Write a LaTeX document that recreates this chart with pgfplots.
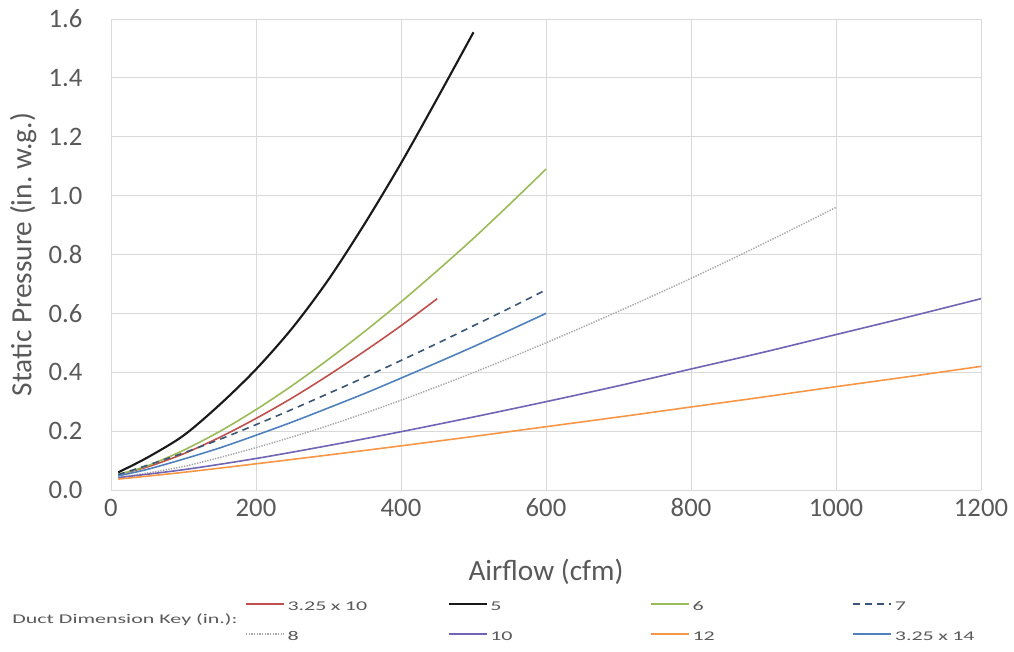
\documentclass[border=0pt]{standalone}
\usepackage{fontspec}
\setmainfont{Carlito}
\newfontfamily\legfont{Carlito}[FakeStretch=1.65]
\usepackage{pgfplots}
\pgfplotsset{compat=1.18}
\definecolor{gridgray}{HTML}{D9D9D9}
\definecolor{txtgray}{HTML}{595959}
\definecolor{cRed}{HTML}{C0504D}
\definecolor{cBlack}{HTML}{1A1A1A}
\definecolor{cGreen}{HTML}{9BBB59}
\definecolor{cDash}{HTML}{3B5675}
\definecolor{cDot}{HTML}{A6A6A6}
\definecolor{cPurple}{HTML}{7064B4}
\definecolor{cOrange}{HTML}{F79646}
\definecolor{cBlue}{HTML}{4F81BD}
\begin{document}
\begin{tikzpicture}
\useasboundingbox (-83.25pt,-120.75pt) rectangle (677.25pt,367.5pt);
\begin{axis}[
  scale only axis,
  width=652.5pt, height=353.25pt,
  xmin=0, xmax=1200, ymin=0, ymax=1.6,
  xtick={0,200,400,600,800,1000,1200},
  ytick={0,0.2,0.4,0.6,0.8,1.0,1.2,1.4,1.6},
  grid=major,
  major grid style={draw=gridgray, line width=0.7pt},
  axis line style={draw=none},
  major tick length=0pt,
  /pgf/number format/assume math mode=true,
  /pgf/number format/1000 sep={},
  ticklabel style={font=\fontsize{20}{24}\selectfont, text=txtgray},
  yticklabel style={/pgf/number format/fixed, /pgf/number format/fixed zerofill, /pgf/number format/precision=1, xshift=-18pt},
  xticklabel style={yshift=-3pt},
  xlabel={Airflow (cfm)},
  ylabel={Static Pressure (in.\ w.g.)},
  label style={font=\fontsize{22}{26}\selectfont, text=txtgray},
  xlabel style={at={(axis description cs:0.5,-0.174)}, anchor=center},
  ylabel style={at={(axis description cs:-0.101,0.5)}, anchor=center},
  legend columns=4,
  legend style={draw=none, fill=none, inner sep=0pt,
    at={(axis description cs:0.154,-0.2335)}, anchor=north west,
    font=\legfont\fontsize{10}{12}\selectfont, text=txtgray,
    row sep=11.5pt,
    nodes={text width=119pt, align=left, text height=7pt, text depth=2pt, inner sep=1pt},
    /tikz/every odd column/.append style={column sep=1pt}},
  legend image code/.code={\draw[#1] (0pt,2.8pt) -- (28.5pt,2.8pt);},
]
\addplot[cRed, line width=1.2pt, smooth] coordinates {(10,0.053)(50,0.078)(100,0.123)(150,0.179)(200,0.243)(250,0.313)(300,0.390)(350,0.472)(400,0.558)(450,0.650)};
\addlegendentry{3.25 x 10}
\addplot[cBlack, line width=1.6pt, smooth] coordinates {(10,0.06)(50,0.11)(100,0.185)(150,0.29)(200,0.41)(250,0.55)(300,0.715)(350,0.905)(400,1.11)(450,1.33)(500,1.555)};
\addlegendentry{5}
\addplot[cGreen, line width=1.2pt, smooth] coordinates {(10,0.053)(50,0.082)(100,0.135)(150,0.199)(200,0.273)(250,0.355)(300,0.444)(350,0.539)(400,0.639)(450,0.745)(500,0.855)(550,0.971)(600,1.09)};
\addlegendentry{6}
\addplot[cDash, line width=1.2pt, dash pattern=on 5pt off 4pt, smooth] coordinates {(10,0.052)(50,0.084)(100,0.126)(150,0.172)(200,0.222)(250,0.274)(300,0.328)(350,0.383)(400,0.44)(450,0.498)(500,0.558)(550,0.618)(600,0.68)};
\addlegendentry{7}
\addplot[cDot, line width=1.1pt, dash pattern=on 1pt off 1pt, smooth] coordinates {(10,0.042)(100,0.08)(200,0.144)(300,0.219)(400,0.305)(500,0.399)(600,0.50)(700,0.607)(800,0.719)(900,0.837)(1000,0.96)};
\addlegendentry{8}
\addplot[cPurple, line width=1.2pt, smooth] coordinates {(10,0.042)(100,0.069)(200,0.107)(300,0.151)(400,0.198)(500,0.248)(600,0.30)(700,0.354)(800,0.411)(900,0.468)(1000,0.528)(1100,0.588)(1200,0.65)};
\addlegendentry{10}
\addplot[cOrange, line width=1.2pt, smooth] coordinates {(10,0.037)(100,0.06)(200,0.089)(300,0.119)(400,0.150)(500,0.182)(600,0.215)(700,0.248)(800,0.282)(900,0.316)(1000,0.351)(1100,0.385)(1200,0.42)};
\addlegendentry{12}
\addplot[cBlue, line width=1.2pt, smooth] coordinates {(10,0.048)(50,0.07)(100,0.105)(150,0.143)(200,0.186)(250,0.231)(300,0.279)(350,0.328)(400,0.38)(450,0.433)(500,0.487)(550,0.543)(600,0.60)};
\addlegendentry{3.25 x 14}
\end{axis}
\node[anchor=west, inner sep=0pt, text=txtgray, font=\legfont\fontsize{10}{12}\selectfont] at (-74.25pt,-97.5pt) {Duct Dimension Key (in.):};
\end{tikzpicture}
\end{document}
